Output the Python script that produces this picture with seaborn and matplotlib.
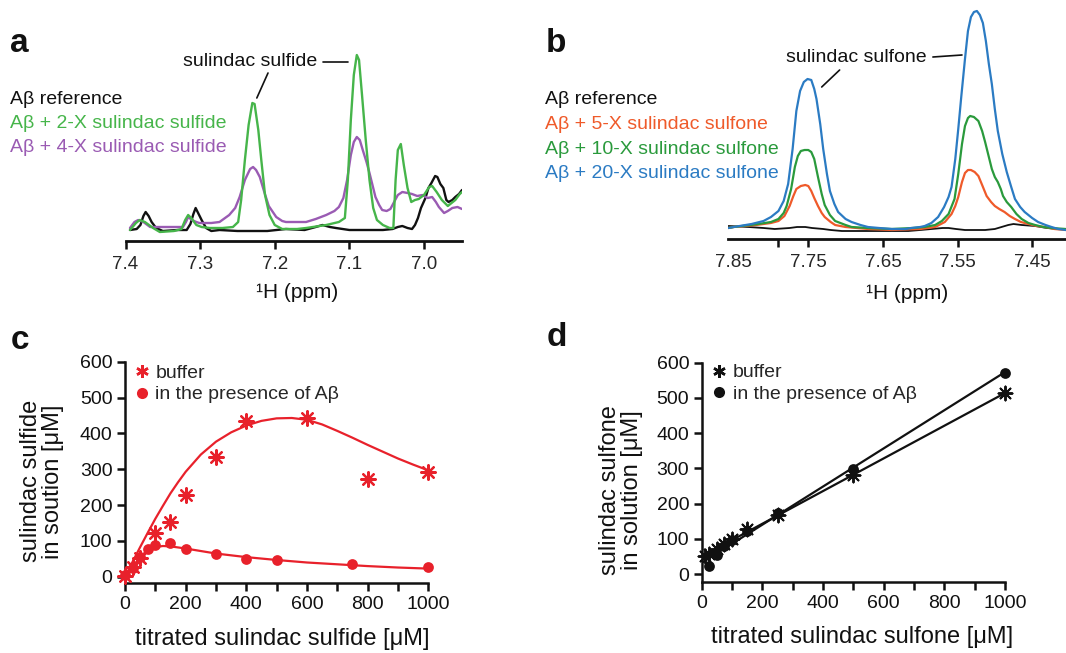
import numpy as np
import pandas as pd
import matplotlib
matplotlib.use("Agg")
import matplotlib.pyplot as plt
from matplotlib.lines import Line2D
import seaborn as sns

# ---------------- panel a: 1H spectra, sulindac sulfide titration ----------------
a_ref_ppm = [7.394, 7.385, 7.380, 7.376, 7.373, 7.369, 7.365, 7.359, 7.350, 7.330, 7.318, 7.313,
             7.309, 7.306, 7.302, 7.298, 7.292, 7.285, 7.274, 7.250, 7.229, 7.210, 7.185, 7.160,
             7.145, 7.136, 7.126, 7.118, 7.100, 7.073, 7.055, 7.042, 7.035, 7.029, 7.022, 7.016,
             7.012, 7.008, 7.004, 6.998, 6.994, 6.990, 6.985, 6.982, 6.978, 6.974, 6.970, 6.967,
             6.962, 6.958, 6.953, 6.949]
a_ref_int = [0, 1, 5, 14, 18, 14, 8, 2, -1, 0, 0, 6,
             16, 22, 16, 10, 2, -1, 0, -1, -1, -1, 1, 0,
             3, 5, 3, 2, 0, 0, 0, 1, 3, 4, 2, 1,
             5, 12, 22, 32, 42, 47, 54, 53, 46, 42, 30, 28,
             30, 33, 36, 40]

a_2x_ppm = [7.394, 7.386, 7.381, 7.374, 7.363, 7.354, 7.335, 7.325, 7.320, 7.316, 7.312, 7.305,
            7.298, 7.287, 7.270, 7.256, 7.249, 7.245, 7.240, 7.235, 7.230, 7.227, 7.222, 7.218,
            7.213, 7.207, 7.200, 7.190, 7.170, 7.158, 7.140, 7.131, 7.114, 7.106, 7.102, 7.098,
            7.094, 7.090, 7.087, 7.083, 7.078, 7.073, 7.068, 7.063, 7.055, 7.046, 7.041, 7.038,
            7.035, 7.031, 7.027, 7.022, 7.017, 7.012, 7.007, 7.000, 6.993, 6.989, 6.983, 6.976,
            6.968, 6.963, 6.958, 6.952, 6.949]
a_2x_int = [0, 7, 10, 8, 2, -2, -1, 1, 10, 15, 12, 5,
            3, 2, 2, 3, 8, 30, 70, 105, 127, 126, 100, 70,
            35, 15, 5, 1, 1, 2, 4, 5, 8, 12, 50, 110,
            155, 175, 170, 135, 90, 50, 22, 10, 5, 2, 2, 50,
            80, 86, 65, 42, 28, 30, 31, 35, 43, 44, 38, 30,
            24, 27, 30, 36, 38]

a_4x_ppm = [7.394, 7.388, 7.383, 7.376, 7.367, 7.355, 7.341, 7.323, 7.319, 7.316, 7.311, 7.305,
            7.301, 7.285, 7.274, 7.261, 7.253, 7.247, 7.240, 7.233, 7.229, 7.225, 7.220, 7.214,
            7.208, 7.198, 7.190, 7.185, 7.170, 7.158, 7.145, 7.131, 7.120, 7.114, 7.108, 7.103,
            7.098, 7.094, 7.090, 7.086, 7.082, 7.077, 7.073, 7.065, 7.060, 7.056, 7.050, 7.045,
            7.040, 7.035, 7.029, 7.022, 7.016, 7.009, 7.002, 6.995, 6.989, 6.984, 6.980, 6.973,
            6.968, 6.962, 6.955, 6.949]
a_4x_int = [2, 8, 10, 8, 3, 3, 3, 3, 8, 13, 10, 8,
            7, 7, 8, 15, 22, 33, 50, 61, 63, 60, 53, 38,
            24, 13, 9, 8, 8, 8, 11, 15, 19, 23, 32, 50,
            75, 88, 93, 90, 80, 68, 57, 33, 25, 20, 19, 21,
            28, 35, 38, 37, 36, 34, 35, 32, 33, 28, 23, 17,
            19, 22, 23, 21]

a_ticks = [7.4, 7.3, 7.2, 7.1, 7.0]
a_names = ["Aβ reference", "Aβ + 2-X sulindac sulfide", "Aβ + 4-X sulindac sulfide"]
a_colors = ["#111111", "#46B54A", "#9A5BB3"]

# ---------------- panel b: 1H spectra, sulindac sulfone titration ----------------
b_ref_ppm = [7.857, 7.830, 7.810, 7.795, 7.775, 7.765, 7.754, 7.745, 7.730, 7.720, 7.705, 7.680,
             7.661, 7.640, 7.616, 7.600, 7.585, 7.570, 7.562, 7.552, 7.540, 7.525, 7.513, 7.500,
             7.491, 7.482, 7.475, 7.464, 7.446, 7.430, 7.415, 7.405]
b_ref_int = [3, 2, 1, 0, 1, 2, 2, 1, 0, -1, -2, -2,
             -2, -2, -2, -1, 0, 1, 1, 0, -1, -1, -1, 0,
             2, 4, 5, 4, 3, 1, 0, 0]

b_5x_ppm = [7.857, 7.850, 7.820, 7.800, 7.790, 7.782, 7.775, 7.770, 7.766, 7.760, 7.754, 7.750,
            7.746, 7.742, 7.737, 7.732, 7.728, 7.720, 7.714, 7.700, 7.670, 7.638, 7.600, 7.580,
            7.567, 7.558, 7.553, 7.549, 7.544, 7.540, 7.536, 7.532, 7.527, 7.522, 7.517, 7.511,
            7.505, 7.500, 7.494, 7.487, 7.480, 7.473, 7.465, 7.455, 7.444, 7.433, 7.420, 7.405]
b_5x_int = [1, 2, 4, 6, 8, 13, 23, 33, 40, 43, 44, 43,
            38, 31, 23, 16, 12, 7, 4, 2, 0, -1, 0, 2,
            7, 15, 23, 32, 47, 56, 59, 59, 57, 53, 44, 33,
            27, 23, 20, 17, 13, 10, 7, 5, 3, 2, 0, -1]

b_10x_ppm = [7.857, 7.850, 7.817, 7.800, 7.790, 7.783, 7.779, 7.773, 7.768, 7.764, 7.760, 7.755,
             7.750, 7.746, 7.742, 7.737, 7.732, 7.728, 7.721, 7.714, 7.700, 7.692, 7.670, 7.638,
             7.610, 7.594, 7.580, 7.571, 7.562, 7.554, 7.549, 7.544, 7.540, 7.536, 7.533, 7.528,
             7.522, 7.517, 7.513, 7.508, 7.504, 7.500, 7.496, 7.492, 7.489, 7.484, 7.478, 7.471,
             7.464, 7.455, 7.446, 7.435, 7.424, 7.405]
b_10x_int = [1, 2, 5, 7, 10, 16, 23, 40, 62, 73, 78, 79,
             79, 77, 70, 52, 35, 24, 14, 8, 4, 2, 1, 0,
             1, 2, 4, 8, 15, 30, 55, 85, 103, 111, 113, 112,
             108, 98, 87, 72, 60, 52, 47, 40, 33, 27, 22, 15,
             10, 6, 4, 2, 1, 0]

b_20x_ppm = [7.857, 7.850, 7.826, 7.810, 7.800, 7.790, 7.783, 7.777, 7.771, 7.766, 7.761, 7.756,
             7.751, 7.746, 7.742, 7.739, 7.734, 7.730, 7.725, 7.721, 7.715, 7.710, 7.700, 7.692,
             7.680, 7.670, 7.655, 7.638, 7.620, 7.612, 7.600, 7.594, 7.585, 7.576, 7.568, 7.562,
             7.558, 7.553, 7.549, 7.545, 7.540, 7.536, 7.532, 7.528, 7.524, 7.520, 7.516, 7.512,
             7.508, 7.504, 7.500, 7.496, 7.490, 7.484, 7.478, 7.473, 7.466, 7.460, 7.450, 7.442,
             7.432, 7.424, 7.415, 7.405]
b_20x_int = [1, 2, 5, 8, 12, 18, 28, 45, 80, 118, 138, 147,
             150, 149, 140, 130, 105, 80, 55, 38, 25, 17, 10, 7,
             4, 2, 1, 0, 0, 1, 2, 3, 6, 12, 22, 32,
             42, 70, 100, 132, 170, 198, 212, 217, 218, 214, 206, 188,
             165, 145, 120, 98, 75, 57, 42, 30, 22, 17, 11, 7,
             4, 2, 0, -1]

b_ticks = [7.85, 7.79, 7.75, 7.65, 7.55, 7.45]
b_tick_labels = ["7.85", "", "7.75", "7.65", "7.55", "7.45"]
b_names = ["Aβ reference", "Aβ + 5-X sulindac sulfone", "Aβ + 10-X sulindac sulfone",
           "Aβ + 20-X sulindac sulfone"]
b_colors = ["#111111", "#EF5A2A", "#2A9A3C", "#2B7BC3"]

# ---------------- panel c: sulindac sulfide solubility ----------------
c_buffer_x = [0, 25, 50, 100, 150, 200, 300, 400, 600, 800, 1000]
c_buffer_y = [3, 28, 52, 121, 153, 228, 333, 434, 444, 273, 293]
c_buffer_fit_x = [0, 25, 50, 75, 100, 125, 150, 175, 200, 250, 300, 350, 400, 450, 500, 550,
                  600, 650, 700, 750, 800, 850, 900, 950, 1000]
c_buffer_fit_y = [0, 42, 83, 123, 162, 198, 233, 264, 293, 341, 377, 403, 422, 435, 442, 443,
                  438, 425, 407, 388, 368, 349, 330, 313, 297]
c_abeta_x = [0, 25, 50, 75, 100, 150, 200, 300, 400, 500, 750, 1000]
c_abeta_y = [4, 25, 55, 78, 90, 93, 77, 63, 51, 46, 35, 28]
c_abeta_fit_x = [0, 25, 50, 75, 100, 125, 150, 200, 250, 300, 400, 500, 600, 700, 800, 900, 1000]
c_abeta_fit_y = [0, 28, 55, 75, 83, 86, 85, 79, 72, 65, 55, 47, 40, 35, 30, 26, 23]

# ---------------- panel d: sulindac sulfone solubility ----------------
d_buffer_x = [10, 25, 50, 75, 100, 150, 250, 500, 1000]
d_buffer_y = [52, 58, 72, 85, 100, 127, 168, 281, 513]
d_abeta_x = [25, 50, 75, 100, 150, 250, 500, 1000]
d_abeta_y = [24, 55, 79, 96, 124, 174, 298, 572]

xy_ticks = list(range(0, 1001, 100))
xy_tick_labels = [str(v) if v % 200 == 0 else "" for v in xy_ticks]
y_ticks = list(range(0, 601, 100))

RED = "#E8212B"
BLACK = "#111111"

sns.set_theme(style="white")
plt.rcParams["font.family"] = ["Liberation Sans", "DejaVu Sans"]
plt.rcParams["axes.linewidth"] = 1.6

W, H = 1066, 653
fig = plt.figure(figsize=(W / 100, H / 100), dpi=100)


def box(l, t, r, b):
    return [l / W, 1 - b / H, (r - l) / W, (b - t) / H]


def fig_text(x, y, s, **kw):
    fig.text(x / W, 1 - y / H, s, **kw)


def spectrum(ax, ppm, inten, color, lw):
    df = pd.DataFrame({"ppm": ppm, "intensity": inten})
    sns.lineplot(data=df, x="ppm", y="intensity", color=color, linewidth=lw,
                 estimator=None, ax=ax)


def spectrum_axis(ax):
    for s in ["left", "right", "top"]:
        ax.spines[s].set_visible(False)
    ax.spines["bottom"].set_linewidth(2.0)
    ax.spines["bottom"].set_color(BLACK)
    ax.set_yticks([])
    ax.set_ylabel("")
    ax.tick_params(axis="x", direction="out", length=6, width=1.8, color=BLACK,
                   labelsize=13.5, pad=5, bottom=True)
    ax.set_xlabel("¹H (ppm)", fontsize=15, color=BLACK)
    ax.patch.set_alpha(0)


# ---- panel a ----
ax_a = fig.add_axes(box(125.5, 30, 462, 241))
for ppm, inten, col in [(a_ref_ppm, a_ref_int, a_colors[0]),
                        (a_4x_ppm, a_4x_int, a_colors[2]),
                        (a_2x_ppm, a_2x_int, a_colors[1])]:
    spectrum(ax_a, ppm, inten, col, 1.7)
ax_a.set_xlim(7.4, 6.949)
ax_a.set_ylim(-11, 200)
ax_a.set_xticks(a_ticks)
ax_a.set_xticklabels([f"{t:.1f}" for t in a_ticks])
spectrum_axis(ax_a)
ax_a.xaxis.set_label_coords(0.51, -0.2)
ax_a.text(7.233, 168, "sulindac sulfide", fontsize=14, ha="center", va="center", color=BLACK)
ax_a.plot([7.135, 7.102], [168, 168], color=BLACK, lw=1.2, clip_on=False)
ax_a.plot([7.209, 7.224], [157, 132], color=BLACK, lw=1.2, clip_on=False)
for i, (name, col) in enumerate(zip(a_names, a_colors)):
    fig_text(10, 99 + 24 * i, name, fontsize=14, color=col, va="center", ha="left")

# ---- panel b ----
ax_b = fig.add_axes(box(728, 4, 1066, 239))
for ppm, inten, col, lw in [(b_ref_ppm, b_ref_int, b_colors[0], 1.3),
                            (b_5x_ppm, b_5x_int, b_colors[1], 1.6),
                            (b_10x_ppm, b_10x_int, b_colors[2], 1.6),
                            (b_20x_ppm, b_20x_int, b_colors[3], 1.6)]:
    spectrum(ax_b, ppm, inten, col, lw)
ax_b.set_xlim(7.8576, 7.4046)
ax_b.set_ylim(-10, 225)
ax_b.set_xticks(b_ticks)
ax_b.set_xticklabels(b_tick_labels)
spectrum_axis(ax_b)
ax_b.xaxis.get_major_ticks()[0].tick1line.set_visible(False)
ax_b.xaxis.set_label_coords(0.53, -0.19)
ax_b.text(7.685, 171, "sulindac sulfone", fontsize=14, ha="center", va="center", color=BLACK)
ax_b.plot([7.583, 7.544], [172, 174], color=BLACK, lw=1.2, clip_on=False)
ax_b.plot([7.708, 7.732], [159, 142], color=BLACK, lw=1.2, clip_on=False)
for i, (name, col) in enumerate(zip(b_names, b_colors)):
    fig_text(545, 100 + 24.5 * i, name, fontsize=14, color=col, va="center", ha="left")


def titration_axis(ax, ymin, xlabel, ylabel):
    ax.set_xlim(0, 1000)
    ax.set_ylim(ymin, 600)
    for s in ["right", "top"]:
        ax.spines[s].set_visible(False)
    for s in ["left", "bottom"]:
        ax.spines[s].set_linewidth(1.8)
        ax.spines[s].set_color(BLACK)
    ax.set_xticks(xy_ticks)
    ax.set_xticklabels(xy_tick_labels)
    ax.set_yticks(y_ticks)
    ax.set_yticklabels([str(v) for v in y_ticks])
    ax.tick_params(direction="out", length=6, width=1.8, color=BLACK, labelsize=14,
                   pad=3, bottom=True, left=True, labelcolor=BLACK)
    ax.set_xlabel(xlabel, fontsize=17, color=BLACK)
    ax.set_ylabel(ylabel, fontsize=17, color=BLACK, linespacing=1.0)
    ax.patch.set_alpha(0)


STAR = (8, 2, 0)

# ---- panel c ----
ax_c = fig.add_axes(box(125, 361.7, 428.3, 583.3))
sns.lineplot(x=c_buffer_fit_x, y=c_buffer_fit_y, color=RED, linewidth=1.6, ax=ax_c)
sns.lineplot(x=c_abeta_fit_x, y=c_abeta_fit_y, color=RED, linewidth=1.6, ax=ax_c)
sns.scatterplot(x=c_abeta_x, y=c_abeta_y, color=RED, marker="o", s=60, linewidth=0,
                clip_on=False, zorder=4, ax=ax_c)
sns.scatterplot(x=c_buffer_x, y=c_buffer_y, color=RED, marker=STAR, s=110, linewidth=1.6,
                clip_on=False, zorder=5, ax=ax_c)
titration_axis(ax_c, -18, "titrated sulindac sulfide [μM]", "sulindac sulfide\nin soution [μM]")
ax_c.xaxis.set_label_coords(0.52, -0.2)
ax_c.yaxis.set_label_coords(-0.20, 0.46)
ax_c.legend(handles=[Line2D([], [], ls="none", marker=(6, 2, 0), color=RED, ms=9, mew=1.8),
                     Line2D([], [], ls="none", marker="o", color=RED, ms=8, mew=0)],
            labels=["buffer", "in the presence of Aβ"], loc="upper left",
            bbox_to_anchor=(0.023, 0.99), frameon=False, fontsize=14, handlelength=1.0,
            handletextpad=0.2, labelspacing=0.22, borderpad=0, borderaxespad=0)

# ---- panel d ----
ax_d = fig.add_axes(box(701.7, 362.7, 1005, 582))
ax_d.set_xlim(0, 1000)
sns.regplot(x=d_buffer_x, y=d_buffer_y, scatter=False, ci=None, truncate=False,
            color=BLACK, line_kws={"linewidth": 1.6}, ax=ax_d)
sns.regplot(x=d_abeta_x, y=d_abeta_y, scatter=False, ci=None, truncate=False,
            color=BLACK, line_kws={"linewidth": 1.6}, ax=ax_d)
sns.scatterplot(x=d_abeta_x, y=d_abeta_y, color=BLACK, marker="o", s=60, linewidth=0,
                clip_on=False, zorder=4, ax=ax_d)
sns.scatterplot(x=d_buffer_x, y=d_buffer_y, color=BLACK, marker=STAR, s=100, linewidth=1.4,
                clip_on=False, zorder=5, ax=ax_d)
titration_axis(ax_d, -22, "titrated sulindac sulfone [μM]", "sulindac sulfone\nin solution [μM]")
ax_d.xaxis.set_label_coords(0.53, -0.2)
ax_d.yaxis.set_label_coords(-0.195, 0.42)
ax_d.legend(handles=[Line2D([], [], ls="none", marker=(6, 2, 0), color=BLACK, ms=9, mew=1.8),
                     Line2D([], [], ls="none", marker="o", color=BLACK, ms=8, mew=0)],
            labels=["buffer", "in the presence of Aβ"], loc="upper left",
            bbox_to_anchor=(0.025, 0.995), frameon=False, fontsize=14, handlelength=1.0,
            handletextpad=0.2, labelspacing=0.22, borderpad=0, borderaxespad=0)

# panel letters
for letter, (x, y) in zip("abcd", [(19, 44), (556, 43), (20, 340), (557, 338)]):
    fig_text(x, y, letter, fontsize=24, fontweight="bold", color=BLACK, ha="center", va="center")

fig.savefig("out.png", dpi=100, facecolor="white")
